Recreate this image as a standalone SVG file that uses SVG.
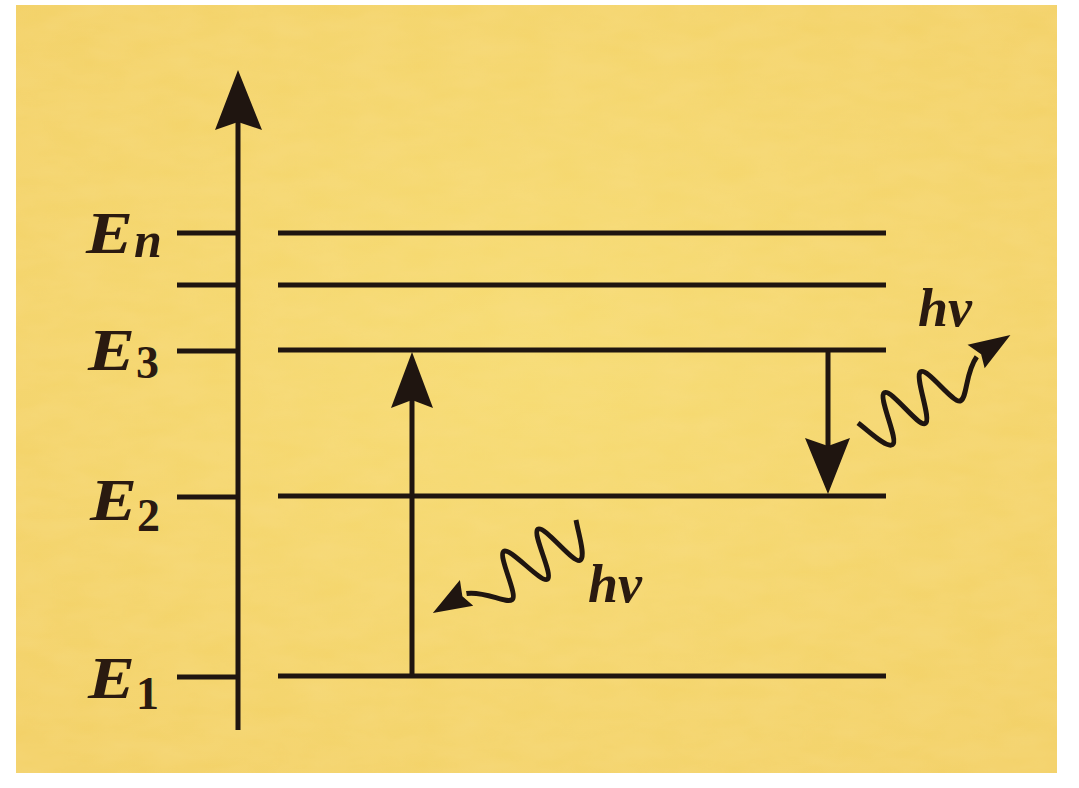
<svg xmlns="http://www.w3.org/2000/svg" xmlns:xlink="http://www.w3.org/1999/xlink" width="1079" height="788" viewBox="0 0 1079 788">
<style>
.ln{stroke:#1f1510;stroke-width:5;fill:none;stroke-linecap:butt}
.hd{fill:#1f1510;stroke:none}
.E{font-family:"Liberation Serif","Times New Roman",serif;font-style:italic;font-weight:bold;font-size:60px;fill:#2a1a10}
.sub{font-family:"Liberation Serif","Times New Roman",serif;font-weight:bold;font-size:46px;fill:#2a1a10}
.subi{font-family:"Liberation Serif","Times New Roman",serif;font-style:italic;font-weight:bold;font-size:50px;fill:#2a1a10}
.hv{font-family:"Liberation Serif","Times New Roman",serif;font-style:italic;font-weight:bold;font-size:54px;fill:#2a1a10}
</style>
<defs>
<radialGradient id="bg" cx="0.5" cy="0.45" r="0.7">
<stop offset="0" stop-color="#f7dc74"/>
<stop offset="1" stop-color="#f3d168"/>
</radialGradient>
<filter id="tex" x="0" y="0" width="1" height="1">
<feTurbulence type="fractalNoise" baseFrequency="0.02 0.05" numOctaves="3" seed="4" result="n"/>
<feColorMatrix in="n" type="matrix" values="0 0 0 0 0.95  0 0 0 0 0.75  0 0 0 0 0.3  0 0 0 0.35 -0.05" result="c"/>
<feComposite in="c" in2="SourceGraphic" operator="in"/>
</filter>
<g id="wave">
<path class="ln" stroke-linecap="round" d="M0,0 C6,14 12,36 19,36 C27,36 30,-13 38,-13 C46,-13 50,34 58,34 C66,34 72,-13 80,-13 C88,-13 92,32 100,32 C108,32 118,10 136,2"/>
<polygon class="hd" points="176,0 134,-13 141,2 137,16"/>
</g>
</defs>
<rect x="0" y="0" width="1079" height="788" fill="#ffffff"/>
<rect x="16" y="5" width="1041" height="768" fill="url(#bg)"/>
<rect x="16" y="5" width="1041" height="768" fill="#f1cf66" filter="url(#tex)"/>

<g id="axis">
<line class="ln" x1="238" y1="730" x2="238" y2="120"/>
<polygon class="hd" points="238,70 262,130 238,122 215,130"/>
</g>

<g id="level-En">
<line class="ln" x1="177" y1="233" x2="238" y2="233"/>
<line class="ln" x1="278" y1="233" x2="886" y2="233"/>
<text class="E" x="86" y="253" textLength="47" lengthAdjust="spacingAndGlyphs">E</text><text class="subi" x="134" y="257">n</text>
</g>
<g id="level-4">
<line class="ln" x1="177" y1="285" x2="238" y2="285"/>
<line class="ln" x1="278" y1="285" x2="886" y2="285"/>
</g>
<g id="level-E3">
<line class="ln" x1="177" y1="351" x2="238" y2="351"/>
<line class="ln" x1="278" y1="350" x2="886" y2="350"/>
<text class="E" x="88" y="370" textLength="47" lengthAdjust="spacingAndGlyphs">E</text><text class="sub" x="136" y="378">3</text>
</g>
<g id="level-E2">
<line class="ln" x1="177" y1="497" x2="238" y2="497"/>
<line class="ln" x1="278" y1="496" x2="886" y2="496"/>
<text class="E" x="90" y="520" textLength="47" lengthAdjust="spacingAndGlyphs">E</text><text class="sub" x="137" y="531">2</text>
</g>
<g id="level-E1">
<line class="ln" x1="177" y1="677" x2="238" y2="677"/>
<line class="ln" x1="278" y1="676" x2="886" y2="676"/>
<text class="E" x="88" y="698" textLength="47" lengthAdjust="spacingAndGlyphs">E</text><text class="sub" x="136" y="709">1</text>
</g>

<g id="connectors">
<line class="ln" x1="412" y1="676" x2="412" y2="400"/>
<polygon class="hd" points="412,352 433,408 412,400 391,408"/>
<line class="ln" x1="828" y1="350" x2="828" y2="446"/>
<polygon class="hd" points="828,494 850,438 828,446 805,438"/>
<use xlink:href="#wave" transform="translate(858,423) rotate(-30)"/>
<use xlink:href="#wave" transform="translate(576,520) rotate(147) scale(0.97,-1)"/>
<text class="hv" x="588" y="602">hν</text>
<text class="hv" x="918" y="326">hν</text>
</g>
</svg>
